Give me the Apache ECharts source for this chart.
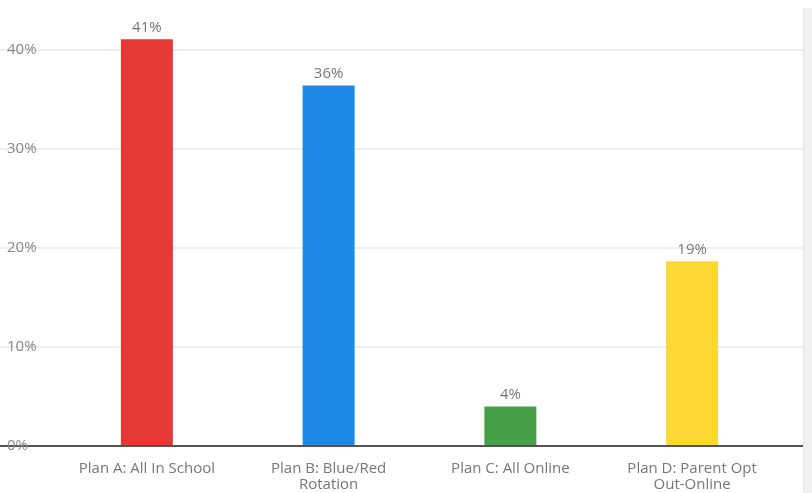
<!DOCTYPE html>
<html>
<head>
<meta charset="utf-8">
<script src="https://cdn.jsdelivr.net/npm/echarts@6/dist/echarts.min.js"></script>
<style>
html,body{margin:0;padding:0;background:#fff;}
#c{width:812px;height:493px;}
</style>
</head>
<body>
<div id="c"></div>
<script>
const categories = ['Plan A: All In School', 'Plan B: Blue/Red\nRotation', 'Plan C: All Online', 'Plan D: Parent Opt\nOut-Online'];
const values = [41.1, 36.4, 3.9, 18.6];
const barColors = ['#e53935', '#1e88e5', '#43a047', '#fdd835'];
const yTicks = [0, 10, 20, 30, 40];

const chart = echarts.init(document.getElementById('c'), null, {renderer: 'canvas'});
const font = '"Open Sans", sans-serif';
const gridTop = 50, gridBottom = 47;
chart.setOption({
  animation: false,
  backgroundColor: '#fff',
  grid: [
    {left: 0, right: 9, top: gridTop, bottom: gridBottom, containLabel: false},
    {left: 56, right: 29, top: gridTop, bottom: gridBottom, containLabel: false}
  ],
  xAxis: [
    {gridIndex: 0, type: 'value', min: 0, max: 1, axisLine: {show: true, onZero: false, lineStyle: {color: '#222', width: 1.5}},
     axisTick: {show: false}, axisLabel: {show: false}, splitLine: {show: false}},
    {gridIndex: 1, type: 'category', data: categories, axisLine: {show: false}, axisTick: {show: false},
     axisLabel: {color: '#777', fontFamily: font, fontSize: 15, lineHeight: 16, margin: 16, interval: 0}}
  ],
  yAxis: [
    {gridIndex: 0, type: 'value', min: yTicks[0], max: yTicks[yTicks.length - 1], interval: 10,
     axisLine: {show: false}, axisTick: {show: false},
     axisLabel: {inside: true, margin: 7, color: '#888', fontFamily: font, fontSize: 15, formatter: v => v + '%'},
     splitLine: {lineStyle: {color: '#efefef', width: 2}}},
    {gridIndex: 1, type: 'value', min: yTicks[0], max: yTicks[yTicks.length - 1], interval: 10, show: false}
  ],
  series: [{
    type: 'bar', xAxisIndex: 1, yAxisIndex: 1, clip: false,
    barWidth: '28.6%',
    data: values.map((v, i) => ({value: v, itemStyle: {color: barColors[i]}})),
    label: {show: true, position: 'top', distance: 4, color: '#777', fontFamily: font, fontSize: 15,
      formatter: p => Math.round(p.value) + '%'}
  }],
  graphic: [
    {type: 'rect', shape: {x: 803, y: 8, width: 9, height: 485}, style: {fill: '#f1f1f1'}, z: 100},
    {type: 'rect', shape: {x: 803, y: 8, width: 1, height: 485}, style: {fill: '#e4e4e4'}, z: 101}
  ]
});
</script>
</body>
</html>
